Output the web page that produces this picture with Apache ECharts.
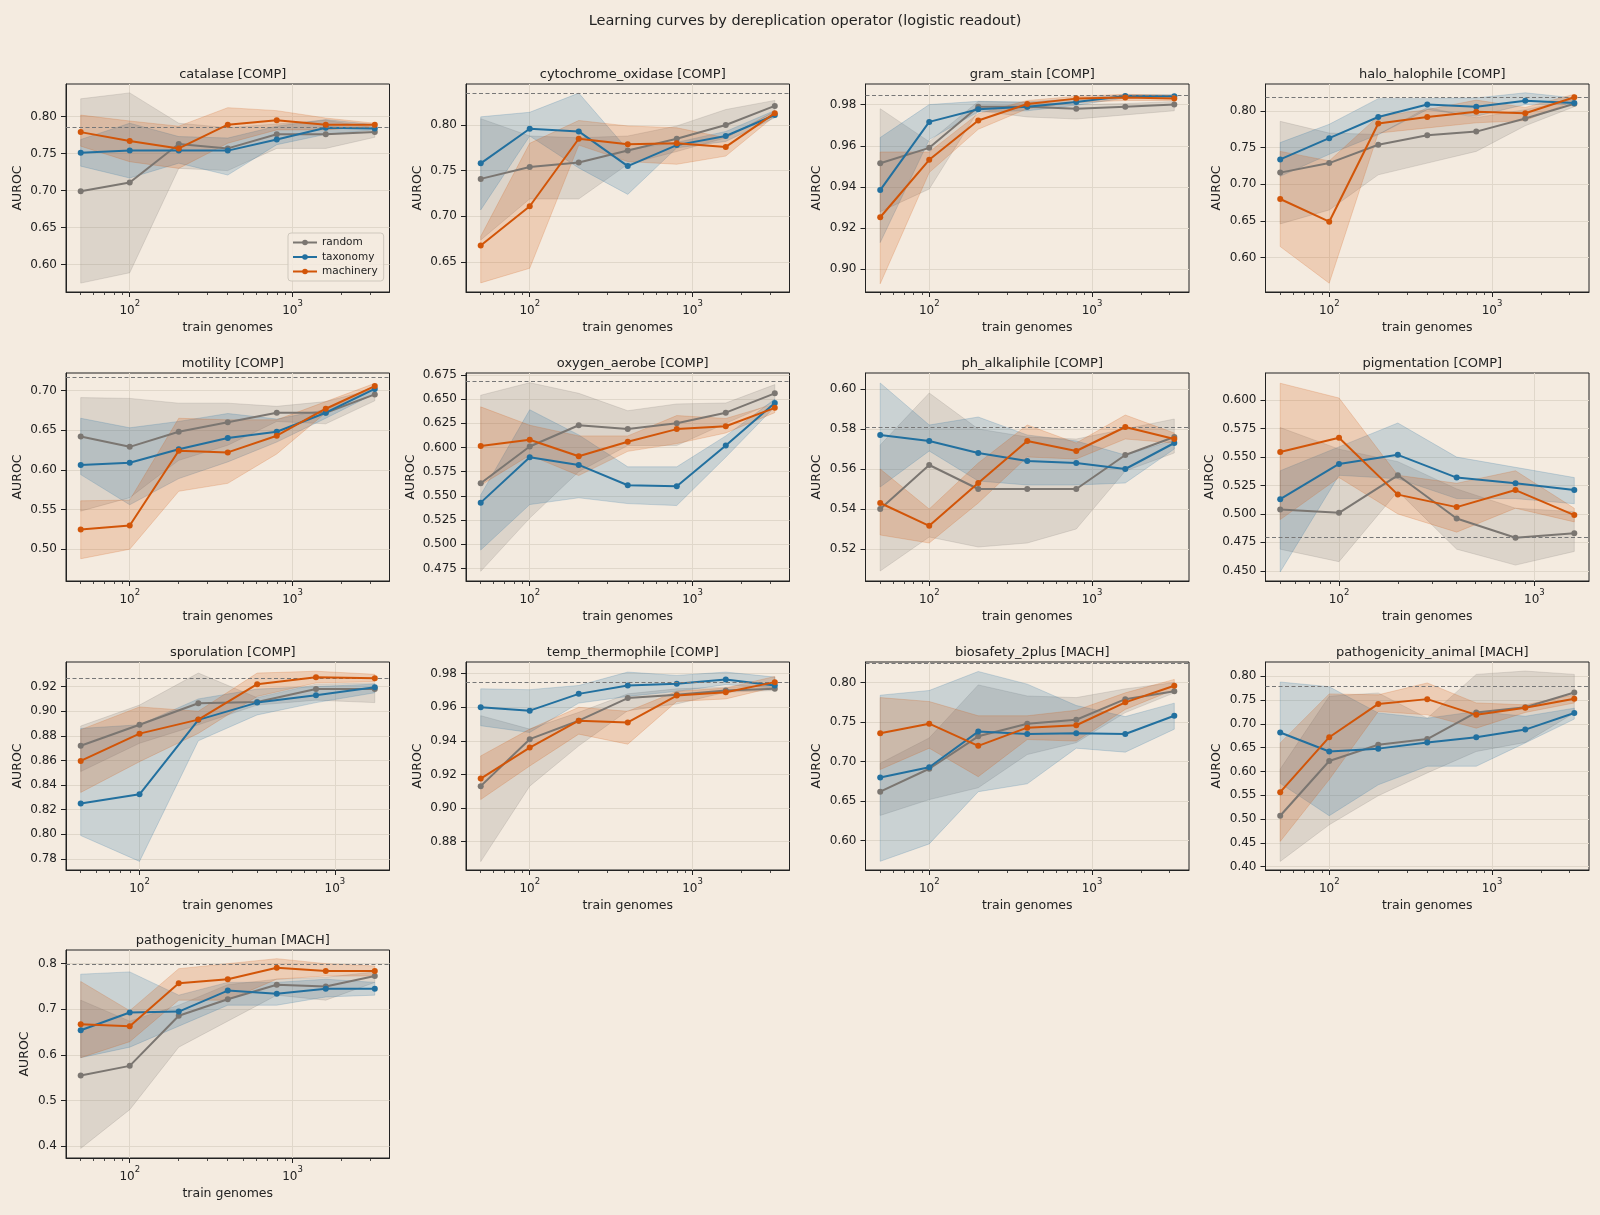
<!DOCTYPE html>
<html>
<head>
<meta charset="utf-8">
<title>Learning curves by dereplication operator</title>
<script src="https://cdn.jsdelivr.net/npm/echarts@6/dist/echarts.min.js"></script>
<style>
  html, body { margin: 0; padding: 0; background: #f4ebe0; }
  #chart { width: 1600px; height: 1215px; }
</style>
</head>
<body>
<div id="chart"></div>
<script>
// --- data ---
const traits = [
  'catalase [COMP]', 'cytochrome_oxidase [COMP]', 'gram_stain [COMP]', 'halo_halophile [COMP]',
  'motility [COMP]', 'oxygen_aerobe [COMP]', 'ph_alkaliphile [COMP]', 'pigmentation [COMP]',
  'sporulation [COMP]', 'temp_thermophile [COMP]', 'biosafety_2plus [MACH]', 'pathogenicity_animal [MACH]',
  'pathogenicity_human [MACH]'
];
const trainSizes = [50, 100, 200, 400, 800, 1600, 3200];

const randomMean = [
  [0.699, 0.711, 0.763, 0.757, 0.776, 0.776, 0.779],
  [0.741, 0.754, 0.759, 0.772, 0.785, 0.800, 0.821],
  [0.9515, 0.959, 0.979, 0.979, 0.978, 0.979, 0.980],
  [0.716, 0.729, 0.754, 0.767, 0.772, 0.790, 0.810],
  [0.642, 0.629, 0.648, 0.660, 0.672, 0.672, 0.695],
  [0.563, 0.601, 0.623, 0.619, 0.625, 0.636, 0.656],
  [0.540, 0.562, 0.550, 0.550, 0.550, 0.567, 0.576],
  [0.504, 0.501, 0.534, 0.496, 0.479, 0.483],
  [0.872, 0.889, 0.9065, 0.9075, 0.918, 0.918],
  [0.913, 0.941, 0.952, 0.9655, 0.9675, 0.970, 0.971],
  [0.662, 0.691, 0.732, 0.748, 0.753, 0.779, 0.789],
  [0.507, 0.622, 0.656, 0.668, 0.724, 0.735, 0.766],
  [0.555, 0.576, 0.686, 0.722, 0.754, 0.750, 0.773]
];
const randomLo = [
  [0.575, 0.589, 0.730, 0.727, 0.757, 0.757, 0.772],
  [0.674, 0.719, 0.719, 0.757, 0.771, 0.786, 0.815],
  [0.928, 0.939, 0.977, 0.974, 0.973, 0.975, 0.977],
  [0.646, 0.665, 0.713, 0.729, 0.745, 0.780, 0.806],
  [0.548, 0.565, 0.612, 0.631, 0.661, 0.658, 0.687],
  [0.472, 0.527, 0.575, 0.602, 0.602, 0.625, 0.647],
  [0.509, 0.526, 0.521, 0.523, 0.530, 0.559, 0.568],
  [0.469, 0.458, 0.520, 0.469, 0.455, 0.467],
  [0.851, 0.874, 0.889, 0.905, 0.909, 0.907],
  [0.868, 0.913, 0.937, 0.958, 0.962, 0.969, 0.970],
  [0.632, 0.652, 0.667, 0.709, 0.724, 0.762, 0.787],
  [0.411, 0.488, 0.549, 0.597, 0.642, 0.661, 0.723],
  [0.395, 0.480, 0.617, 0.674, 0.731, 0.720, 0.759]
];
const randomHi = [
  [0.824, 0.832, 0.791, 0.785, 0.790, 0.795, 0.785],
  [0.807, 0.788, 0.786, 0.788, 0.799, 0.817, 0.827],
  [0.978, 0.962, 0.9815, 0.981, 0.980, 0.9805, 0.9815],
  [0.786, 0.770, 0.768, 0.805, 0.791, 0.802, 0.816],
  [0.691, 0.690, 0.684, 0.684, 0.680, 0.686, 0.702],
  [0.654, 0.667, 0.656, 0.638, 0.645, 0.646, 0.665],
  [0.572, 0.598, 0.580, 0.576, 0.575, 0.580, 0.585],
  [0.576, 0.557, 0.546, 0.522, 0.505, 0.502],
  [0.888, 0.905, 0.931, 0.911, 0.922, 0.923],
  [0.955, 0.947, 0.957, 0.968, 0.971, 0.972, 0.973],
  [0.698, 0.730, 0.797, 0.783, 0.781, 0.792, 0.800],
  [0.605, 0.758, 0.765, 0.712, 0.804, 0.811, 0.804],
  [0.720, 0.674, 0.709, 0.754, 0.766, 0.770, 0.782]
];

const taxMean = [
  [0.751, 0.754, 0.754, 0.754, 0.769, 0.785, 0.784],
  [0.758, 0.796, 0.793, 0.755, 0.778, 0.788, 0.811],
  [0.9385, 0.9716, 0.9777, 0.979, 0.9813, 0.9842, 0.984],
  [0.734, 0.763, 0.792, 0.809, 0.806, 0.814, 0.811],
  [0.606, 0.609, 0.626, 0.640, 0.648, 0.672, 0.702],
  [0.543, 0.590, 0.582, 0.561, 0.560, 0.602, 0.646],
  [0.577, 0.574, 0.568, 0.564, 0.563, 0.560, 0.573],
  [0.513, 0.544, 0.552, 0.532, 0.527, 0.521],
  [0.825, 0.8325, 0.893, 0.907, 0.913, 0.9195],
  [0.960, 0.958, 0.968, 0.973, 0.974, 0.9765, 0.973],
  [0.680, 0.693, 0.738, 0.735, 0.736, 0.735, 0.758],
  [0.682, 0.642, 0.648, 0.661, 0.672, 0.688, 0.723],
  [0.654, 0.693, 0.695, 0.741, 0.734, 0.745, 0.745]
];
const taxLo = [
  [0.733, 0.717, 0.737, 0.721, 0.762, 0.776, 0.782],
  [0.707, 0.788, 0.753, 0.724, 0.775, 0.782, 0.808],
  [0.913, 0.963, 0.9765, 0.977, 0.9797, 0.9832, 0.9832],
  [0.711, 0.741, 0.768, 0.802, 0.793, 0.809, 0.809],
  [0.594, 0.556, 0.589, 0.610, 0.635, 0.665, 0.696],
  [0.494, 0.541, 0.548, 0.542, 0.540, 0.590, 0.642],
  [0.551, 0.569, 0.554, 0.552, 0.552, 0.553, 0.570],
  [0.449, 0.534, 0.531, 0.5135, 0.5135, 0.509],
  [0.799, 0.778, 0.876, 0.897, 0.907, 0.915],
  [0.949, 0.945, 0.9625, 0.9665, 0.9695, 0.9735, 0.9715],
  [0.574, 0.596, 0.662, 0.672, 0.717, 0.712, 0.741],
  [0.575, 0.507, 0.572, 0.611, 0.611, 0.660, 0.710],
  [0.594, 0.617, 0.663, 0.709, 0.709, 0.727, 0.731]
];
const taxHi = [
  [0.769, 0.791, 0.773, 0.771, 0.787, 0.796, 0.789],
  [0.809, 0.814, 0.835, 0.773, 0.781, 0.793, 0.816],
  [0.964, 0.980, 0.9816, 0.9813, 0.9829, 0.9848, 0.9848],
  [0.757, 0.782, 0.817, 0.817, 0.818, 0.825, 0.818],
  [0.665, 0.653, 0.661, 0.671, 0.664, 0.676, 0.706],
  [0.551, 0.639, 0.613, 0.580, 0.580, 0.612, 0.650],
  [0.603, 0.582, 0.586, 0.577, 0.574, 0.567, 0.5745],
  [0.538, 0.559, 0.580, 0.550, 0.541, 0.532],
  [0.886, 0.889, 0.910, 0.918, 0.920, 0.922],
  [0.971, 0.9705, 0.973, 0.981, 0.979, 0.981, 0.978],
  [0.784, 0.790, 0.814, 0.798, 0.771, 0.757, 0.774],
  [0.788, 0.778, 0.723, 0.712, 0.726, 0.716, 0.733],
  [0.777, 0.782, 0.731, 0.759, 0.759, 0.766, 0.759]
];

const machMean = [
  [0.779, 0.767, 0.757, 0.789, 0.795, 0.789, 0.789],
  [0.668, 0.711, 0.785, 0.779, 0.780, 0.776, 0.813],
  [0.9253, 0.9532, 0.9723, 0.9803, 0.9829, 0.9834, 0.9829],
  [0.680, 0.649, 0.783, 0.792, 0.799, 0.797, 0.819],
  [0.525, 0.530, 0.624, 0.622, 0.643, 0.677, 0.7055],
  [0.6015, 0.608, 0.591, 0.606, 0.619, 0.622, 0.641],
  [0.543, 0.5316, 0.553, 0.574, 0.569, 0.581, 0.575],
  [0.5545, 0.567, 0.517, 0.506, 0.521, 0.499],
  [0.8596, 0.8818, 0.8932, 0.922, 0.9276, 0.9268],
  [0.9175, 0.936, 0.952, 0.951, 0.967, 0.969, 0.975],
  [0.736, 0.748, 0.720, 0.743, 0.746, 0.775, 0.796],
  [0.5565, 0.672, 0.742, 0.752, 0.719, 0.734, 0.753],
  [0.667, 0.663, 0.757, 0.766, 0.791, 0.784, 0.784]
];
const machLo = [
  [0.760, 0.739, 0.730, 0.764, 0.782, 0.782, 0.787],
  [0.627, 0.643, 0.778, 0.760, 0.757, 0.766, 0.810],
  [0.893, 0.947, 0.968, 0.978, 0.981, 0.982, 0.982],
  [0.615, 0.565, 0.770, 0.777, 0.784, 0.787, 0.814],
  [0.488, 0.500, 0.573, 0.583, 0.620, 0.672, 0.702],
  [0.561, 0.592, 0.571, 0.596, 0.604, 0.615, 0.636],
  [0.527, 0.523, 0.543, 0.566, 0.565, 0.575, 0.573],
  [0.495, 0.532, 0.500, 0.484, 0.505, 0.493],
  [0.834, 0.859, 0.882, 0.912, 0.923, 0.924],
  [0.905, 0.925, 0.944, 0.938, 0.9635, 0.965, 0.972],
  [0.690, 0.717, 0.681, 0.728, 0.726, 0.766, 0.791],
  [0.453, 0.583, 0.726, 0.719, 0.691, 0.724, 0.744],
  [0.594, 0.629, 0.720, 0.720, 0.766, 0.773, 0.773]
];
const machHi = [
  [0.802, 0.794, 0.787, 0.812, 0.808, 0.798, 0.791],
  [0.678, 0.780, 0.805, 0.799, 0.797, 0.786, 0.815],
  [0.957, 0.957, 0.9756, 0.982, 0.984, 0.985, 0.9845],
  [0.745, 0.732, 0.793, 0.802, 0.815, 0.805, 0.823],
  [0.561, 0.562, 0.665, 0.663, 0.663, 0.686, 0.709],
  [0.642, 0.623, 0.612, 0.612, 0.633, 0.630, 0.645],
  [0.560, 0.540, 0.563, 0.582, 0.573, 0.587, 0.578],
  [0.615, 0.602, 0.534, 0.527, 0.538, 0.505],
  [0.885, 0.9035, 0.900, 0.931, 0.9325, 0.930],
  [0.931, 0.947, 0.960, 0.9576, 0.9695, 0.9715, 0.9784],
  [0.781, 0.776, 0.758, 0.758, 0.765, 0.787, 0.804],
  [0.660, 0.763, 0.761, 0.786, 0.744, 0.740, 0.761],
  [0.761, 0.697, 0.789, 0.800, 0.811, 0.800, 0.795]
];

// dashed reference level per trait
const refLine = [0.7855, 0.8348, 0.9847, 0.8183, 0.7164, 0.6682, 0.5807, 0.4797, 0.9268, 0.9752, 0.8249, 0.7789, 0.7977];

// y axis ranges and tick labels
const yMin = [0.563, 0.617, 0.889, 0.553, 0.460, 0.462, 0.504, 0.441, 0.771, 0.863, 0.563, 0.393, 0.374];
const yMax = [0.844, 0.845, 0.990, 0.837, 0.722, 0.677, 0.608, 0.624, 0.940, 0.987, 0.826, 0.830, 0.830];
const yTicks = [
  [0.60, 0.65, 0.70, 0.75, 0.80],
  [0.65, 0.70, 0.75, 0.80],
  [0.90, 0.92, 0.94, 0.96, 0.98],
  [0.60, 0.65, 0.70, 0.75, 0.80],
  [0.50, 0.55, 0.60, 0.65, 0.70],
  [0.475, 0.500, 0.525, 0.550, 0.575, 0.600, 0.625, 0.650, 0.675],
  [0.52, 0.54, 0.56, 0.58, 0.60],
  [0.450, 0.475, 0.500, 0.525, 0.550, 0.575, 0.600],
  [0.78, 0.80, 0.82, 0.84, 0.86, 0.88, 0.90, 0.92],
  [0.88, 0.90, 0.92, 0.94, 0.96, 0.98],
  [0.60, 0.65, 0.70, 0.75, 0.80],
  [0.40, 0.45, 0.50, 0.55, 0.60, 0.65, 0.70, 0.75, 0.80],
  [0.4, 0.5, 0.6, 0.7, 0.8]
];
const yDecimals = [2, 2, 2, 2, 2, 3, 2, 3, 2, 2, 2, 2, 1];

const majorX = [100, 1000];
const minorX = [50, 60, 70, 80, 90, 200, 300, 400, 500, 600, 700, 800, 900, 2000, 3000];

// --- styling ---
const BG = '#f4ebe0';
const INK = '#222222';
const GRIDLINE = '#e0d7ca';
const FONT = 'DejaVu Sans';
const operators = ['random', 'taxonomy', 'machinery'];
const colors = { random: '#7b7671', taxonomy: '#22709f', machinery: '#d25508' };
const stats = {
  random: [randomMean, randomLo, randomHi],
  taxonomy: [taxMean, taxLo, taxHi],
  machinery: [machMean, machLo, machHi]
};

const colLeft = [66, 466, 865.5, 1265.5];
const rowTop = [84, 373, 662, 950];
const W = 323.5, H = 208;

// matplotlib-like 5% margin in log space
function logRange(xs) {
  const a = Math.log10(xs[0]), b = Math.log10(xs[xs.length - 1]);
  const p = (b - a) * 0.05;
  return [Math.pow(10, a - p), Math.pow(10, b + p)];
}

function bandSeries(i, xs, lo, hi, color) {
  return {
    type: 'custom',
    xAxisIndex: 2 * i,
    yAxisIndex: i,
    silent: true,
    clip: true,
    z: 1,
    data: xs.map((x, k) => [x, lo[k], hi[k]]),
    encode: { x: 0, y: [1, 2] },
    renderItem: function (params, api) {
      if (params.dataIndex !== 0) return null;
      const pts = [];
      for (let k = 0; k < xs.length; k++) pts.push(api.coord([xs[k], hi[k]]));
      for (let k = xs.length - 1; k >= 0; k--) pts.push(api.coord([xs[k], lo[k]]));
      return {
        type: 'polygon',
        shape: { points: pts },
        style: { fill: color, stroke: color, lineWidth: 1, opacity: 0.2 }
      };
    }
  };
}

const grid = [], xAxis = [], yAxis = [], series = [];
const title = [{
  text: 'Learning curves by dereplication operator (logistic readout)',
  left: 800, top: 9, textAlign: 'center',
  textStyle: { fontFamily: FONT, fontSize: 14.5, fontWeight: 'normal', color: INK }
}];

traits.forEach((name, i) => {
  const left = colLeft[i % 4], top = rowTop[Math.floor(i / 4)];
  const n = randomMean[i].length;
  const xs = trainSizes.slice(0, n);
  const [xmin, xmax] = logRange(xs);

  grid.push({ left: left, top: top, width: W, height: H, show: true, borderColor: INK, borderWidth: 1, backgroundColor: 'transparent' });

  title.push({
    text: name, left: left + W / 2, top: top - 21, textAlign: 'center',
    textStyle: { fontFamily: FONT, fontSize: 13, fontWeight: 'normal', color: INK }
  });

  // major x axis: labels, gridlines
  xAxis.push({
    type: 'log', gridIndex: i, min: xmin, max: xmax, position: 'bottom',
    name: 'train genomes', nameLocation: 'middle', nameGap: 29,
    nameTextStyle: { fontFamily: FONT, fontSize: 12.5, color: INK },
    axisLine: { show: true, onZero: false, lineStyle: { color: INK, width: 1 } },
    axisTick: { show: true, length: 5, customValues: majorX, lineStyle: { color: INK, width: 1 } },
    axisLabel: {
      customValues: majorX, margin: 7,
      formatter: v => '{b|10}{s|' + Math.round(Math.log10(v)) + '}',
      rich: {
        b: { fontFamily: FONT, fontSize: 12, color: INK, lineHeight: 18, verticalAlign: 'bottom' },
        s: { fontFamily: FONT, fontSize: 8.5, color: INK, lineHeight: 10, verticalAlign: 'top' }
      }
    },
    splitLine: { show: true, lineStyle: { color: GRIDLINE, width: 1 } }
  });
  // minor ticks
  xAxis.push({
    type: 'log', gridIndex: i, min: xmin, max: xmax, position: 'bottom',
    axisLine: { show: false },
    axisTick: { show: true, length: 3, customValues: minorX.filter(v => v >= xmin && v <= xmax), lineStyle: { color: INK, width: 0.8 } },
    axisLabel: { show: false },
    splitLine: { show: false }
  });

  yAxis.push({
    type: 'value', gridIndex: i, min: yMin[i], max: yMax[i],
    name: 'AUROC', nameLocation: 'middle', nameGap: 28 + 7 * yDecimals[i],
    nameTextStyle: { fontFamily: FONT, fontSize: 12.5, color: INK },
    axisLine: { show: true, lineStyle: { color: INK, width: 1 } },
    axisTick: { show: true, length: 5, customValues: yTicks[i], lineStyle: { color: INK, width: 1 } },
    axisLabel: {
      customValues: yTicks[i], margin: 9,
      fontFamily: FONT, fontSize: 12, color: INK,
      formatter: v => Number(v).toFixed(yDecimals[i])
    },
    splitLine: { show: true, lineStyle: { color: GRIDLINE, width: 1 } }
  });

  operators.forEach(op => {
    const [mean, lo, hi] = stats[op];
    series.push(bandSeries(i, xs, lo[i], hi[i], colors[op]));
  });
  operators.forEach((op, k) => {
    const mean = stats[op][0][i];
    const s = {
      name: op, type: 'line', xAxisIndex: 2 * i, yAxisIndex: i, z: 3 + k,
      data: xs.map((x, j) => [x, mean[j]]),
      symbol: 'circle', symbolSize: 6, showSymbol: true,
      lineStyle: { color: colors[op], width: 2 },
      itemStyle: { color: colors[op] },
      emphasis: { disabled: true }
    };
    if (k === 0) {
      s.markLine = {
        silent: true, symbol: 'none', animation: false, precision: 4,
        label: { show: false },
        lineStyle: { color: '#777', width: 1, type: [4, 2.5] },
        data: [{ yAxis: refLine[i] }]
      };
    }
    series.push(s);
  });
});

const chart = echarts.init(document.getElementById('chart'));
chart.setOption({
  backgroundColor: BG,
  animation: false,
  title: title,
  legend: {
    data: operators,
    left: 288, top: 233, orient: 'vertical',
    itemWidth: 24, itemHeight: 7, itemGap: 3.5,
    padding: [4, 6, 4, 4],
    backgroundColor: 'rgba(244,235,224,0.8)',
    borderColor: '#cfc8bd', borderWidth: 1, borderRadius: 3,
    selectedMode: false,
    textStyle: { fontFamily: FONT, fontSize: 10.5, color: INK }
  },
  grid: grid,
  xAxis: xAxis,
  yAxis: yAxis,
  series: series
});
window.addEventListener('resize', () => chart.resize());
</script>
</body>
</html>
